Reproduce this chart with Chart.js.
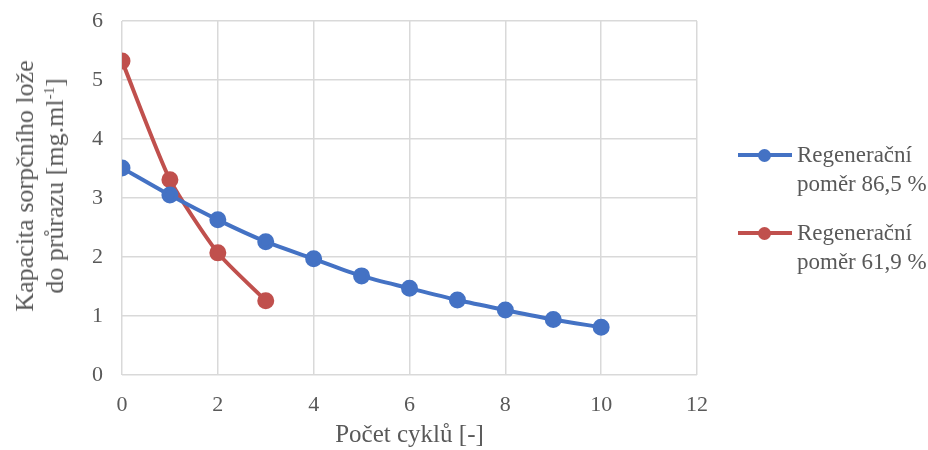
<!DOCTYPE html>
<html><head><meta charset="utf-8">
<script src="https://cdn.jsdelivr.net/npm/chart.js@4/dist/chart.umd.min.js"></script>
<style>
html,body{margin:0;padding:0;background:#fff;}
#wrap{position:relative;width:928px;height:450px;overflow:hidden;}
#c{position:absolute;left:0;top:0;}
#ytitle{position:absolute;left:40px;top:186px;transform:translate(-50%,-50%) rotate(-90deg);white-space:nowrap;text-align:center;font-family:"Liberation Serif",serif;font-size:26px;line-height:30px;color:#595959;}
#ytitle sup{font-size:15px;line-height:0;vertical-align:9px;}
#legend{position:absolute;left:738px;top:140px;white-space:nowrap;font-family:"Liberation Serif",serif;font-size:23px;line-height:29px;color:#595959;}
.li{position:relative;padding-left:59px;margin-bottom:20px;white-space:nowrap;}
.li .ln{position:absolute;left:0;top:15px;width:54px;height:4px;margin-top:-2px;}
.li .dt{position:absolute;left:20px;top:15px;width:13px;height:13px;margin-top:-6.5px;border-radius:50%;}
</style></head>
<body><div id="wrap"><canvas id="c" width="928" height="450"></canvas>
<div id="ytitle">Kapacita sorpčního lože<br>do průrazu [mg.ml<sup>-1</sup>]</div>
<div id="legend"></div></div>
<script>
const seriesNames = ["Regenerační\npoměr 86,5 %", "Regenerační\npoměr 61,9 %"];
const seriesColors = ["#4472C4", "#C0504D"];
const cyclesA = [0,1,2,3,4,5,6,7,8,9,10];
const capacityA = [3.51,3.05,2.63,2.26,1.97,1.68,1.47,1.27,1.10,0.94,0.81];
const cyclesB = [0,1,2,3];
const capacityB = [5.32,3.31,2.07,1.26];
const xTitle = "Počet cyklů [-]";

const fontFam = '"Liberation Serif", "Times New Roman", serif';
const pts = (xs, ys) => xs.map((x,i)=>({x:x,y:ys[i]}));

new Chart(document.getElementById('c'), {
  type:'line',
  data:{datasets:[
    {label:seriesNames[0], data:pts(cyclesA,capacityA), borderColor:seriesColors[0], backgroundColor:seriesColors[0], borderWidth:4, pointRadius:6.5, pointHoverRadius:6.5, tension:0.3, fill:false},
    {label:seriesNames[1], data:pts(cyclesB,capacityB), borderColor:seriesColors[1], backgroundColor:seriesColors[1], borderWidth:4, pointRadius:6.5, pointHoverRadius:6.5, tension:0.2, fill:false}
  ]},
  options:{
    responsive:false, animation:false,
    layout:{padding:{left:0,right:231,top:21,bottom:0}},
    plugins:{legend:{display:false}, tooltip:{enabled:false}},
    scales:{
      x:{type:'linear', min:0, max:12,
        ticks:{stepSize:2, color:'#595959', font:{family:fontFam,size:22}, padding:17, maxRotation:0},
        grid:{color:'#d9d9d9', lineWidth:1.5, drawTicks:false},
        border:{display:false},
        title:{display:true, text:xTitle, color:'#595959', font:{family:fontFam,size:25}, padding:0},
        afterFit:(s)=>{s.height=75; s.paddingLeft=0; s.paddingRight=0;}
      },
      y:{type:'linear', min:0, max:6,
        ticks:{stepSize:1, color:'#595959', font:{family:fontFam,size:22}, padding:19},
        grid:{color:'#d9d9d9', lineWidth:1.5, drawTicks:false},
        border:{display:false},
        afterFit:(s)=>{s.width=122; s.paddingTop=0; s.paddingBottom=0;}
      }
    }
  }
});

const lg = document.getElementById('legend');
seriesNames.forEach((n,i)=>{
  const d = document.createElement('div'); d.className='li';
  d.innerHTML = '<span class="ln" style="background:'+seriesColors[i]+'"></span><span class="dt" style="background:'+seriesColors[i]+'"></span>' + n.split('\n').join('<br>');
  lg.appendChild(d);
});
</script></body></html>
